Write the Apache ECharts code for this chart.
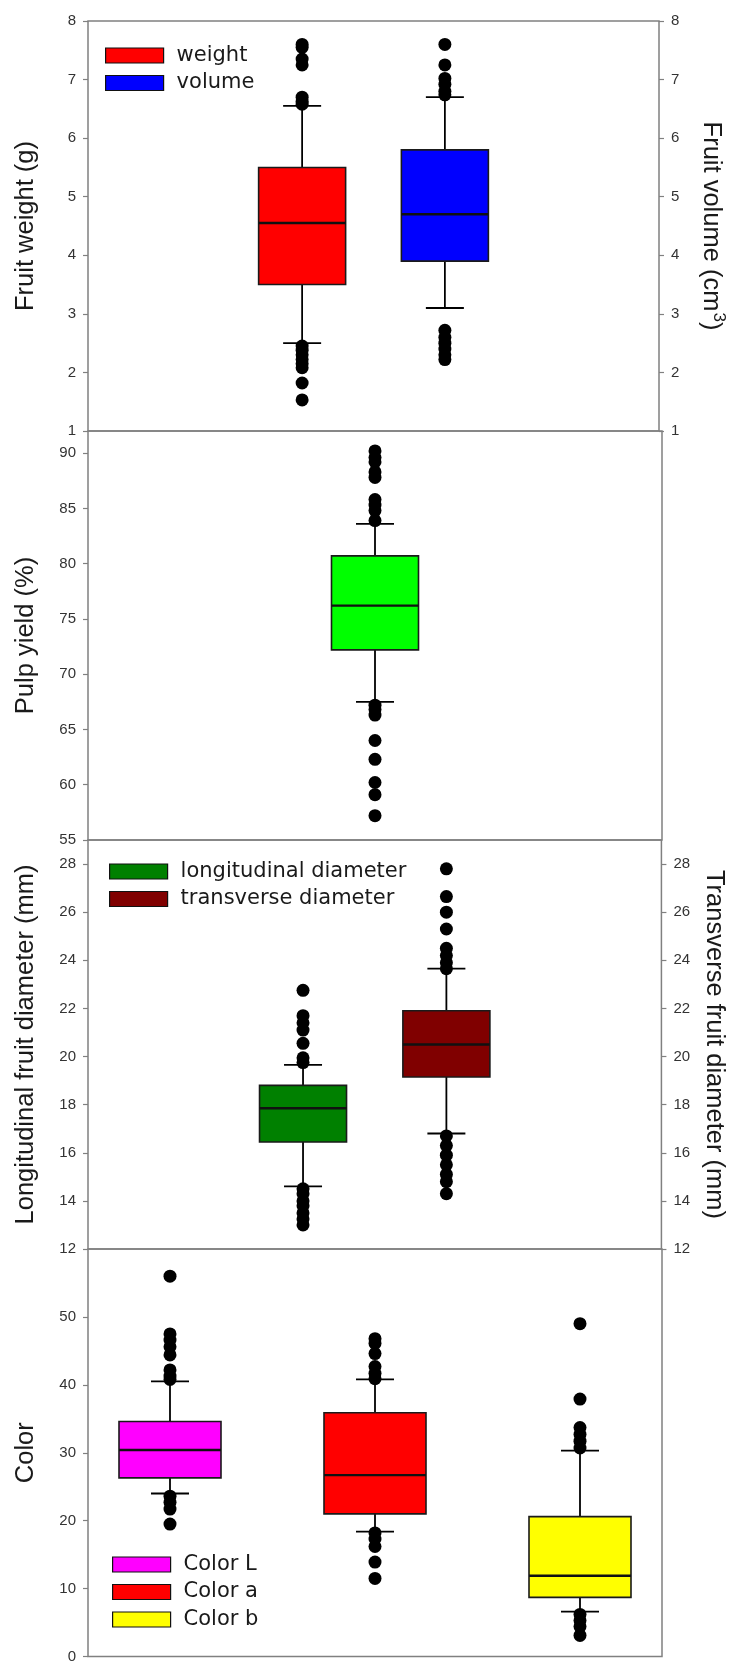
<!DOCTYPE html>
<html><head><meta charset="utf-8">
<script src="https://cdn.jsdelivr.net/npm/echarts@6/dist/echarts.min.js"></script>
<style>html,body{margin:0;padding:0;background:#fff}#c{width:735px;height:1664px}</style>
</head><body><div id="c"></div>
<script>
// ---------- DATA ----------
// stats: [lower whisker, Q1, median, Q3, upper whisker]
// Panel 1: fruit weight / volume
const p1Names = ['weight', 'volume'];
const p1Pos = [1, 2];
const weightStats = [2.5, 3.5, 4.55, 5.5, 6.55];
const weightOut = [7.6, 7.55, 7.35, 7.25, 6.7, 6.63, 6.58, 2.45, 2.38, 2.3, 2.22, 2.15, 2.08, 1.82, 1.53];
const volumeStats = [3.1, 3.9, 4.7, 5.8, 6.7];
const volumeOut = [7.6, 7.25, 7.02, 6.92, 6.8, 6.74, 2.72, 2.6, 2.5, 2.4, 2.3, 2.22];
const p1Ticks = [1, 2, 3, 4, 5, 6, 7, 8];

// Panel 2: pulp yield
const p2Names = ['pulp yield'];
const p2Pos = [1];
const pulpStats = [67.5, 72.2, 76.2, 80.7, 83.6];
const pulpOut = [90.2, 89.6, 89.2, 88.3, 87.8, 85.8, 85.3, 84.8, 83.9, 67.2, 66.8, 66.3, 64.0, 62.3, 60.2, 59.1, 57.2];
const p2Ticks = [55, 60, 65, 70, 75, 80, 85, 90];

// Panel 3: diameters
const p3Names = ['longitudinal diameter', 'transverse diameter'];
const p3Pos = [1, 2];
const longStats = [14.6, 16.45, 17.85, 18.8, 19.65];
const longOut = [22.75, 21.7, 21.4, 21.1, 20.55, 19.95, 19.75, 14.5, 14.3, 14.0, 13.8, 13.5, 13.25, 13.0];
const transStats = [16.8, 19.15, 20.5, 21.9, 23.65];
const transOut = [27.8, 26.65, 26.0, 25.3, 24.5, 24.2, 23.9, 23.65, 16.7, 16.3, 15.9, 15.5, 15.1, 14.8, 14.3];
const p3Ticks = [12, 14, 16, 18, 20, 22, 24, 26, 28];

// Panel 4: color
const p4Names = ['Color L', 'Color a', 'Color b'];
const p4Pos = [1, 2, 3];
const colorLStats = [24.0, 26.3, 30.4, 34.6, 40.5];
const colorLOut = [56.0, 47.5, 46.6, 45.6, 44.4, 42.2, 41.3, 40.8, 23.6, 22.7, 21.7, 19.5];
const colorAStats = [18.4, 21.0, 26.7, 35.9, 40.8];
const colorAOut = [46.8, 46.1, 44.6, 42.7, 41.7, 40.9, 18.2, 17.3, 16.2, 13.9, 11.5];
const colorBStats = [6.6, 8.7, 11.9, 20.6, 30.3];
const colorBOut = [49.0, 37.9, 33.7, 32.7, 31.7, 30.7, 6.2, 5.3, 4.4, 3.1];
const p4Ticks = [0, 10, 20, 30, 40, 50];

// ---------- STYLE ----------
const FONT = "'Liberation Sans', Arial, sans-serif";
const LEGFONT = "'DejaVu Sans', 'Liberation Sans', sans-serif";
const FRAME = '#808080';
const fills = {
  'weight': '#ff0000', 'volume': '#0000ff', 'pulp yield': '#00ff00',
  'longitudinal diameter': '#008000', 'transverse diameter': '#800000',
  'Color L': '#ff00ff', 'Color a': '#ff0000', 'Color b': '#ffff00'
};
const GRIDS = [
  {left: 88, width: 574, top: 21, height: 410},
  {left: 88, width: 574, top: 431, height: 409},
  {left: 88, width: 574, top: 840, height: 409},
  {left: 88, width: 574, top: 1249, height: 408}
];
const XRANGE = [[-0.5, 3.5], [0, 2], [-0.5, 3.5], [0.6, 3.4]];
const BOXW = [87, 87, 87, 102];
const CAPW = 38;

function boxRenderer(boxW, fill) {
  return function (params, api) {
    const x = api.value(0);
    const lo = api.coord([x, api.value(1)]);
    const q1 = api.coord([x, api.value(2)]);
    const md = api.coord([x, api.value(3)]);
    const q3 = api.coord([x, api.value(4)]);
    const hi = api.coord([x, api.value(5)]);
    const cx = lo[0];
    const lw = {stroke: '#000', lineWidth: 1.8};
    return {
      type: 'group',
      children: [
        {type: 'line', shape: {x1: cx, y1: hi[1], x2: cx, y2: q3[1]}, style: lw},
        {type: 'line', shape: {x1: cx, y1: q1[1], x2: cx, y2: lo[1]}, style: lw},
        {type: 'line', shape: {x1: cx - CAPW / 2, y1: hi[1], x2: cx + CAPW / 2, y2: hi[1]}, style: lw},
        {type: 'line', shape: {x1: cx - CAPW / 2, y1: lo[1], x2: cx + CAPW / 2, y2: lo[1]}, style: lw},
        {type: 'rect', shape: {x: cx - boxW / 2, y: q3[1], width: boxW, height: q1[1] - q3[1]},
          style: {fill: fill, stroke: '#1a1a1a', lineWidth: 1.6}},
        {type: 'line', shape: {x1: cx - boxW / 2, y1: md[1], x2: cx + boxW / 2, y2: md[1]},
          style: {stroke: '#111', lineWidth: 2.4}}
      ]
    };
  };
}

const series = [];
function addBox(name, pos, stats, outliers, gi, yi) {
  series.push({
    name: name, type: 'custom', xAxisIndex: gi, yAxisIndex: yi,
    itemStyle: {color: fills[name], borderColor: '#000', borderWidth: 1},
    renderItem: boxRenderer(BOXW[gi], fills[name]),
    encode: {x: 0, y: [1, 2, 3, 4, 5]},
    data: [[pos].concat(stats)], z: 2, silent: true
  });
  series.push({
    name: name + ' outliers', type: 'scatter', xAxisIndex: gi, yAxisIndex: yi,
    symbol: 'circle', symbolSize: 13, itemStyle: {color: '#000', opacity: 1},
    data: outliers.map(v => [pos, v]), z: 3, silent: true
  });
}
addBox(p1Names[0], p1Pos[0], weightStats, weightOut, 0, 0);
addBox(p1Names[1], p1Pos[1], volumeStats, volumeOut, 0, 1);
addBox(p2Names[0], p2Pos[0], pulpStats, pulpOut, 1, 2);
addBox(p3Names[0], p3Pos[0], longStats, longOut, 2, 3);
addBox(p3Names[1], p3Pos[1], transStats, transOut, 2, 4);
addBox(p4Names[0], p4Pos[0], colorLStats, colorLOut, 3, 5);
addBox(p4Names[1], p4Pos[1], colorAStats, colorAOut, 3, 5);
addBox(p4Names[2], p4Pos[2], colorBStats, colorBOut, 3, 5);

function yAxis(gi, ticks, side, name, opts) {
  const min = ticks[0], interval = ticks[1] - ticks[0];
  const labels = opts.labels !== false;
  return {
    type: 'value', gridIndex: gi, position: side,
    min: min, max: opts.max, interval: interval,
    name: name, nameLocation: 'middle',
    nameRotate: side === 'left' ? 90 : -90,
    nameGap: side === 'left' ? 49 : 37,
    nameTextStyle: Object.assign({fontFamily: FONT, fontSize: 25.5, color: '#1a1a1a'}, opts.nameStyle || {}),
    axisLine: {show: false, onZero: false},
    axisTick: {show: labels, inside: false, length: 5, lineStyle: {color: FRAME, width: 1.2}},
    axisLabel: {show: labels, margin: 12, fontFamily: FONT, fontSize: 15, color: '#333',
      showMaxLabel: opts.showMax !== false, showMinLabel: true},
    splitLine: {show: false}
  };
}

function legend(names, left, top) {
  return {
    orient: 'vertical', left: left, top: top, padding: 0,
    itemWidth: 58, itemHeight: 15, itemGap: 3.5, selectedMode: false,
    textStyle: {fontFamily: LEGFONT, fontSize: 21, color: '#1a1a1a', lineHeight: 24, padding: [0, 0, 0, 8]},
    data: names.map(n => ({name: n, icon: 'rect', itemStyle: {color: fills[n], borderColor: '#111', borderWidth: 1.2}}))
  };
}

const option = {
  animation: false,
  backgroundColor: '#fff',
  grid: GRIDS.map(g => Object.assign({show: true, borderColor: FRAME, borderWidth: 1.5, backgroundColor: 'transparent'}, g)),
  xAxis: XRANGE.map((r, i) => ({type: 'value', gridIndex: i, min: r[0], max: r[1], show: false})),
  yAxis: [
    yAxis(0, p1Ticks, 'left', 'Fruit weight (g)', {max: 8}),
    yAxis(0, p1Ticks, 'right', 'Fruit volume (cm{sup|3})', {max: 8,
      nameStyle: {rich: {sup: {fontFamily: FONT, fontSize: 17, color: '#1a1a1a', verticalAlign: 'bottom', padding: [0, 0, 14, 1]}}}}),
    yAxis(1, p2Ticks, 'left', 'Pulp yield (%)', {max: 92, showMax: false}),
    yAxis(2, p3Ticks, 'left', 'Longitudinal fruit diameter (mm)', {max: 29, showMax: false}),
    yAxis(2, p3Ticks, 'right', 'Transverse fruit diameter (mm)', {max: 29, showMax: false}),
    yAxis(3, p4Ticks, 'left', 'Color', {max: 60, showMax: false})
  ],
  legend: [
    legend(p1Names, 105, 43.5),
    legend(p3Names, 109, 859.5),
    legend(p4Names, 112, 1552.5)
  ],
  series: series
};

const chart = echarts.init(document.getElementById('c'), null, {renderer: 'canvas'});
chart.setOption(option);
</script>
</body></html>
